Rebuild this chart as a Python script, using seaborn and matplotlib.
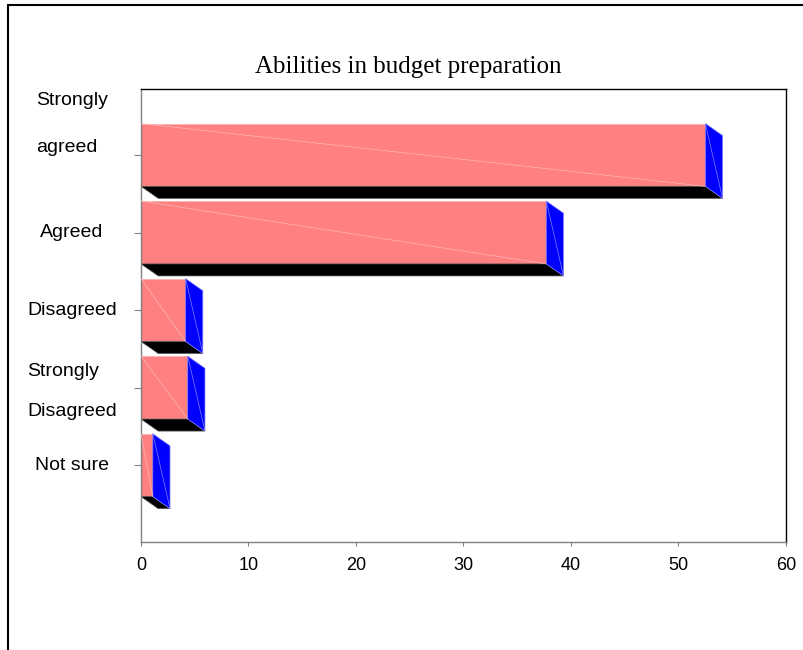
"""
Abilities in budget preparation - 3D style horizontal bar chart.
"""

import pandas as pd
import numpy as np
import matplotlib
matplotlib.use("Agg")
import matplotlib.pyplot as plt
from matplotlib.patches import Polygon
from matplotlib.lines import Line2D
import matplotlib.transforms as mtransforms
import seaborn as sns

# --- data ---
categories = ["Strongly agreed", "Agreed", "Disagreed", "Strongly Disagreed", "Not sure"]
label_lines = ["Strongly\n\nagreed", "Agreed", "Disagreed", "Strongly\nDisagreed", "Not sure"]
values = [52.5, 37.7, 4.15, 4.35, 1.1]

df = pd.DataFrame({"Response": categories, "Percent": values})

sns.set_style("white")
plt.rcParams["font.family"] = ["Liberation Sans", "DejaVu Sans"]
plt.rcParams["text.color"] = "black"
plt.rcParams["xtick.color"] = "black"
plt.rcParams["ytick.color"] = "black"

FRONT = "#FF8080"
SIDE = "#0000FF"
BOTTOM = "#000000"
DX, DY = 1.6, 0.155  # depth of the fake 3D bars, in data units

fig = plt.figure(figsize=(8.04, 6.5), dpi=100)
ax = fig.add_axes([141 / 804, 108 / 650, 645 / 804, 453 / 650])

sns.barplot(data=df, y="Response", x="Percent", orient="h", color=FRONT,
            saturation=1, width=0.81, ax=ax, edgecolor="#FFB0B0", linewidth=0.6)

# side and bottom faces built from each bar's geometry
for p in list(ax.patches):
    x0, w = p.get_x(), p.get_width()
    yt, yb = p.get_y(), p.get_y() + p.get_height()
    bottom = Polygon([(x0, yb), (x0 + w, yb), (x0 + w + DX, yb + DY), (x0 + DX, yb + DY)],
                     closed=True, facecolor=BOTTOM, edgecolor="#555555", linewidth=0.5, zorder=1)
    side = Polygon([(x0 + w, yt), (x0 + w + DX, yt + DY), (x0 + w + DX, yb + DY), (x0 + w, yb)],
                   closed=True, facecolor=SIDE, edgecolor="#8080FF", linewidth=0.5, zorder=1)
    ax.add_patch(bottom)
    ax.add_patch(side)
    ax.plot([x0, x0 + w], [yt, yb], color="#FFB8B8", lw=0.5, zorder=3)
    ax.plot([x0 + w, x0 + w + DX], [yt, yb + DY], color="#8080FF", lw=0.5, zorder=3)

ax.set_xlim(0, 60)
ax.set_ylim(4.99, -0.85)
ax.set_xticks(range(0, 61, 10))
ax.set_xlabel("")
ax.set_ylabel("")
ax.set_yticks(range(len(categories)))
ax.set_yticklabels([""] * len(categories))
ax.tick_params(axis="x", labelsize=13, length=3, color="#808080", labelcolor="black", pad=8)
ax.tick_params(axis="y", length=5, color="#808080")
ax.tick_params(left=True, bottom=True)

# y labels as multi-line text beside the ticks
trans = mtransforms.blended_transform_factory(ax.transAxes, ax.transData)
label_shift = [-0.4, 0, 0, 0.05, 0]
for i, txt in enumerate(label_lines):
    ax.text(-0.107, i + label_shift[i], txt, transform=trans, ha="center", va="center",
            multialignment="left", fontsize=14, color="black",
            linespacing=1.5 if i == 0 else 2.7)

for side_name in ["left", "bottom"]:
    ax.spines[side_name].set_color("#808080")
for side_name in ["top", "right"]:
    ax.spines[side_name].set_color("black")
for s in ax.spines.values():
    s.set_linewidth(1)

fig.text(408 / 804, 1 - 67 / 650, "Abilities in budget preparation", ha="center",
         va="center", fontsize=18, color="black", family=["Liberation Serif", "DejaVu Serif"])

# outer frame: top and left edges only
fig.add_artist(Line2D([8 / 804, 1], [1 - 5 / 650, 1 - 5 / 650], color="black", lw=1.5))
fig.add_artist(Line2D([8 / 804, 8 / 804], [0, 1 - 5 / 650], color="black", lw=1.5))

plt.savefig("out.png", dpi=100)
plt.close()
